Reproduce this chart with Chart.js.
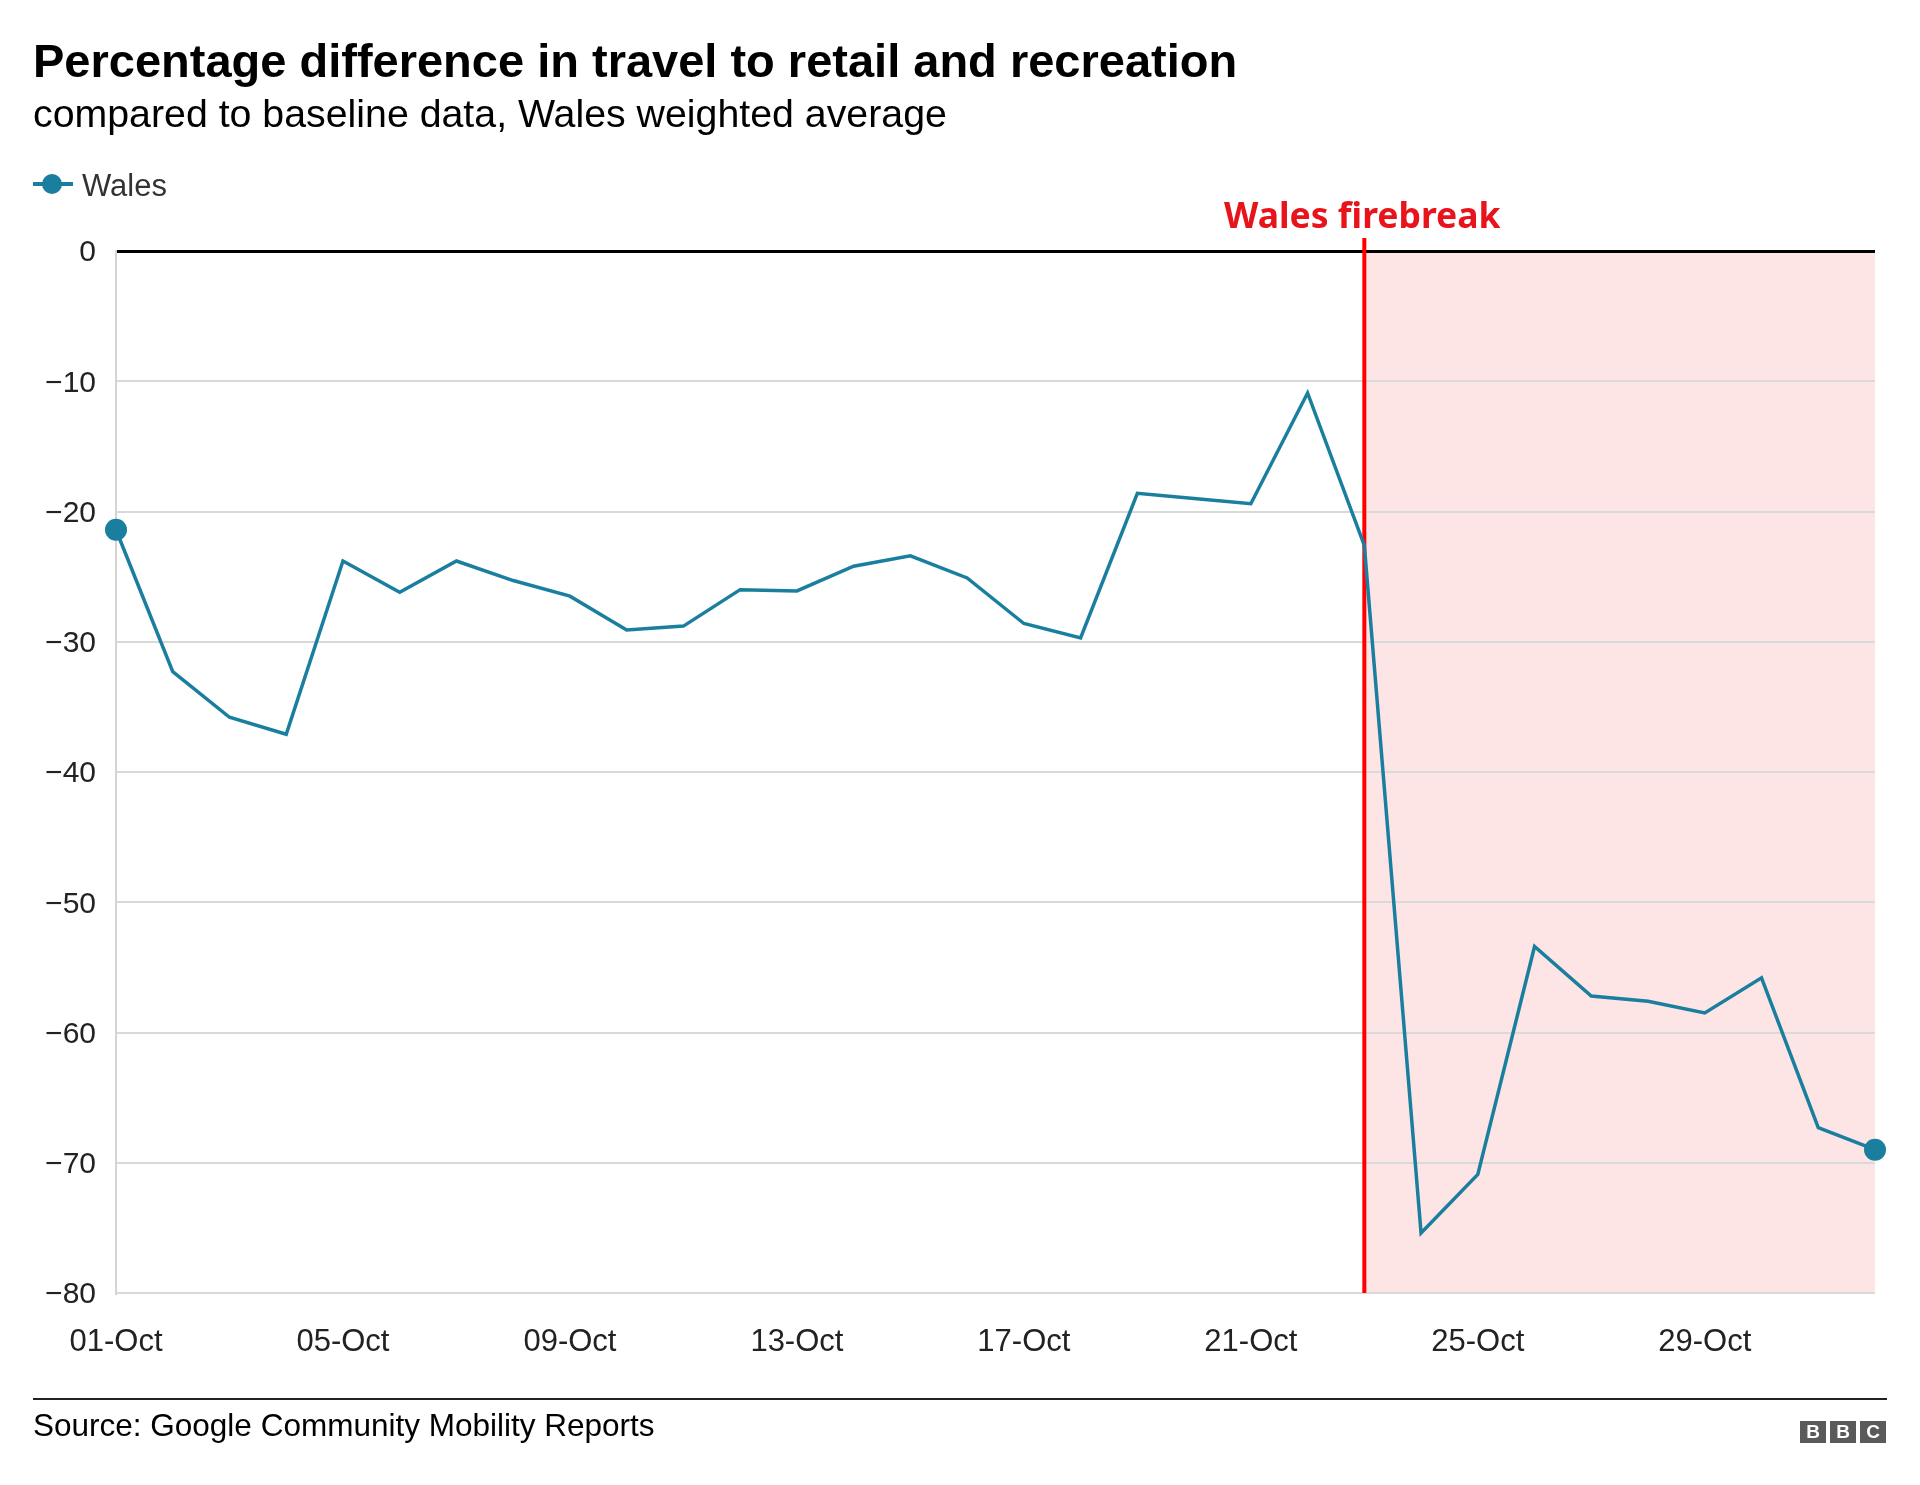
<!DOCTYPE html>
<html>
<head>
<meta charset="utf-8">
<script src="https://cdn.jsdelivr.net/npm/chart.js@4.4.0/dist/chart.umd.min.js"></script>
<style>
  body { margin: 0; background: #fff; }
  #wrap { position: relative; width: 1920px; height: 1485px; overflow: hidden; font-family: "Liberation Sans", Arial, Helvetica, sans-serif; }
  #myChart { position: absolute; left: 0; top: 0; }
  .title { position: absolute; left: 33px; top: 37px; font-size: 47px; line-height: 47px; font-weight: bold; color: #000; white-space: nowrap; }
  .subtitle { position: absolute; left: 33px; top: 94px; font-size: 39.3px; line-height: 39.3px; color: #000; white-space: nowrap; }
  .footline { position: absolute; left: 33px; top: 1398px; width: 1854px; height: 2px; background: #222; }
  .source { position: absolute; left: 33px; top: 1410px; font-size: 31.5px; line-height: 31.5px; color: #000; white-space: nowrap; }
  .bbc { position: absolute; top: 1421px; left: 1800px; height: 22px; }
  .bbc span { float: left; width: 26px; height: 22px; margin-right: 4px; background: #5a5a5a; color: #fff; font-weight: bold; font-size: 19px; line-height: 22px; text-align: center; }
</style>
</head>
<body>
<div id="wrap">
  <canvas id="myChart" width="1920" height="1485"></canvas>
  <div class="title">Percentage difference in travel to retail and recreation</div>
  <div class="subtitle">compared to baseline data, Wales weighted average</div>
  <div class="footline"></div>
  <div class="source">Source: Google Community Mobility Reports</div>
  <div class="bbc"><span>B</span><span>B</span><span>C</span></div>
</div>
<script>
// dias del 1 de octubre al 1 de noviembre
const dates = ['01-Oct', '02-Oct', '03-Oct', '04-Oct', '05-Oct', '06-Oct', '07-Oct', '08-Oct',
    '09-Oct', '10-Oct', '11-Oct', '12-Oct', '13-Oct', '14-Oct', '15-Oct', '16-Oct',
    '17-Oct', '18-Oct', '19-Oct', '20-Oct', '21-Oct', '22-Oct', '23-Oct', '24-Oct',
    '25-Oct', '26-Oct', '27-Oct', '28-Oct', '29-Oct', '30-Oct', '31-Oct', '01-Nov'];

// Wales, % respecto a la linea base
const wales = [-21.4, -32.3, -35.8, -37.1, -23.8, -26.2, -23.8, -25.3,
    -26.5, -29.1, -28.8, -26.0, -26.1, -24.2, -23.4, -25.1,
    -28.6, -29.7, -18.6, -19.0, -19.4, -10.9, -22.6, -75.4,
    -70.9, -53.4, -57.2, -57.6, -58.5, -55.8, -67.3, -69.0];

const xTickLabels = ['01-Oct', '05-Oct', '09-Oct', '13-Oct', '17-Oct', '21-Oct', '25-Oct', '29-Oct'];
const yTickValues = [0, -10, -20, -30, -40, -50, -60, -70, -80];

const firebreakStart = '23-Oct';
const firebreakLabel = 'Wales firebreak';
const seriesName = 'Wales';

const lineColor = '#1a7f9e';

// Plugin: sombreado, linea roja, texto y leyenda
const extras = {
    id: 'extras',
    beforeDraw(chart) {
        const ctx = chart.ctx;
        const area = chart.chartArea;
        const x0 = chart.scales.x.getPixelForValue(dates.indexOf(firebreakStart));
        ctx.save();
        ctx.fillStyle = '#fde5e5';
        ctx.fillRect(x0, area.top, area.right - x0, area.bottom - area.top);
        ctx.restore();
    },
    beforeDatasetsDraw(chart) {
        const ctx = chart.ctx;
        const area = chart.chartArea;
        const x0 = chart.scales.x.getPixelForValue(dates.indexOf(firebreakStart));
        ctx.save();
        ctx.strokeStyle = '#ff0000';
        ctx.lineWidth = 4;
        ctx.beginPath();
        ctx.moveTo(x0, area.top - 13);
        ctx.lineTo(x0, area.bottom);
        ctx.stroke();

        ctx.fillStyle = '#e8141c';
        ctx.font = 'bold 35.5px "Noto Sans", "Open Sans", sans-serif';
        ctx.textAlign = 'center';
        ctx.textBaseline = 'alphabetic';
        ctx.fillText(firebreakLabel, x0 - 2, area.top - 23);

        // leyenda
        ctx.strokeStyle = lineColor;
        ctx.lineWidth = 4;
        ctx.beginPath();
        ctx.moveTo(33, 184);
        ctx.lineTo(73, 184);
        ctx.stroke();
        ctx.fillStyle = lineColor;
        ctx.beginPath();
        ctx.arc(52, 184, 10, 0, Math.PI * 2);
        ctx.fill();
        ctx.fillStyle = '#333';
        ctx.font = '31px "Liberation Sans", Arial, sans-serif';
        ctx.textAlign = 'left';
        ctx.fillText(seriesName, 82, 196);
        ctx.restore();
    }
};

const config = {
    type: 'line',
    data: {
        labels: dates,
        datasets: [{
            label: seriesName,
            data: wales,
            borderColor: lineColor,
            backgroundColor: lineColor,
            borderWidth: 3.5,
            tension: 0,
            clip: false,
            pointRadius: ctx => (ctx.dataIndex === 0 || ctx.dataIndex === wales.length - 1) ? 11 : 0,
            pointHoverRadius: 0,
            pointBorderWidth: 0
        }]
    },
    options: {
        responsive: false,
        animation: false,
        devicePixelRatio: 1,
        layout: {
            padding: { left: 0, top: 251, right: 45, bottom: 0 }
        },
        plugins: {
            legend: { display: false },
            tooltip: { enabled: false }
        },
        scales: {
            x: {
                afterFit: scale => { scale.height = 192; },
                grid: { display: false, drawTicks: false },
                border: { display: false },
                ticks: {
                    autoSkip: false,
                    maxRotation: 0,
                    padding: 31,
                    color: '#222',
                    font: { family: '"Liberation Sans", Arial, sans-serif', size: 31 },
                    callback: function(val, i) {
                        const lab = dates[i];
                        return xTickLabels.includes(lab) ? lab : '';
                    }
                }
            },
            y: {
                min: -80,
                max: 0,
                afterFit: scale => { scale.width = 116; },
                afterBuildTicks: scale => { scale.ticks = yTickValues.map(v => ({ value: v })); },
                border: { display: true, color: '#d4d4d4', width: 2 },
                grid: {
                    drawTicks: false,
                    color: c => c.tick && c.tick.value === 0 ? '#000' : '#d9d9d9',
                    lineWidth: c => c.tick && c.tick.value === 0 ? 3 : 2
                },
                ticks: {
                    padding: 20,
                    labelOffset: 2,
                    color: '#222',
                    font: { family: '"Liberation Sans", Arial, sans-serif', size: 30 },
                    callback: v => v < 0 ? '\u2212' + Math.abs(v) : String(v)
                }
            }
        }
    },
    plugins: [extras]
};

new Chart(document.getElementById('myChart').getContext('2d'), config);
</script>
</body>
</html>
